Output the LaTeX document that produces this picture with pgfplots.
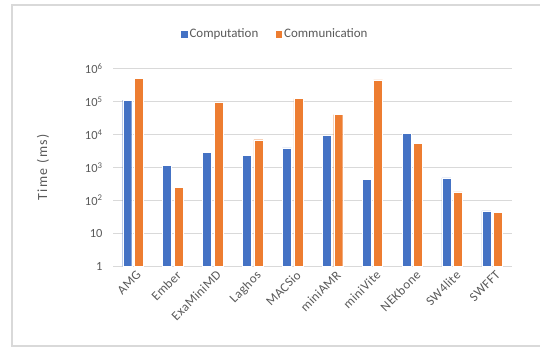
\documentclass[border=0pt]{standalone}
\usepackage{pgfplots}
\pgfplotsset{compat=1.18}
\usepackage{fontspec}
\setmainfont{Carlito}
\definecolor{compblue}{HTML}{4472C4}
\definecolor{commorange}{HTML}{ED7D31}
\definecolor{gridgray}{HTML}{D9D9D9}
\definecolor{textgray}{HTML}{595959}

\begin{document}
\begin{tikzpicture}[x=1bp,y=1bp]
\useasboundingbox (0,0) rectangle (540,347);
% chart frame
\draw[gridgray, line width=1.2bp] (560,1) -- (12,1) -- (12,342) -- (560,342);
\begin{axis}[
  at={(113bp,80.7bp)}, anchor=south west,
  scale only axis, width=399bp, height=197.8bp,
  ymode=log, ymin=1, ymax=1e6,
  xmin=-0.5, xmax=9.5,
  ybar=2.5bp, bar width=9bp,
  xtick={0,...,9},
  xticklabels={AMG,Ember,ExaMiniMD,Laghos,MACSio,miniAMR,miniVite,NEKbone,SW4lite,SWFFT},
  ytick={1,10,100,1000,10000,100000,1000000},
  yticklabels={1,10,10\textsuperscript{2},10\textsuperscript{3},10\textsuperscript{4},10\textsuperscript{5},10\textsuperscript{6}},
  tick style={draw=none},
  major tick length=0pt, minor tick length=0pt,
  axis line style={draw=none},
  ymajorgrids, major grid style={gridgray, line width=1bp},
  yticklabel style={font=\fontsize{12.5}{14}\selectfont, text=textgray, xshift=-7bp},
  xticklabel style={font=\fontsize{13}{15}\selectfont\addfontfeature{LetterSpace=3}, text=textgray,
    rotate=45, anchor=north east, xshift=3bp, yshift=-1bp},
  ylabel={Time (ms)},
  every axis y label/.style={at={(rel axis cs:0,0.5)}, xshift=-70bp, rotate=90, anchor=center,
    font=\fontsize{14}{16}\selectfont\addfontfeature{LetterSpace=10}, text=textgray},
  legend columns=2,
  legend style={at={(0.405,1.174)}, anchor=center, draw=none, fill=none,
    font=\fontsize{13}{15}\selectfont, text=textgray,
    nodes={inner xsep=1.5bp},
    /tikz/every even column/.append style={column sep=15bp}},
  legend image code/.code={\fill[#1] (0bp,-3.7bp) rectangle (7.4bp,3.7bp);},
  clip=false,
]
\addplot[fill=compblue, draw=white, line width=0.4bp] coordinates {
  (0,110000) (1,1170) (2,2800) (3,2300) (4,3900)
  (5,9500) (6,430) (7,10700) (8,480) (9,48)};
\addplot[fill=commorange, draw=white, line width=0.4bp] coordinates {
  (0,500000) (1,250) (2,97000) (3,6900) (4,123000)
  (5,40000) (6,450000) (7,5400) (8,180) (9,43)};
\legend{Computation,Communication}
\end{axis}
\end{tikzpicture}
\end{document}
